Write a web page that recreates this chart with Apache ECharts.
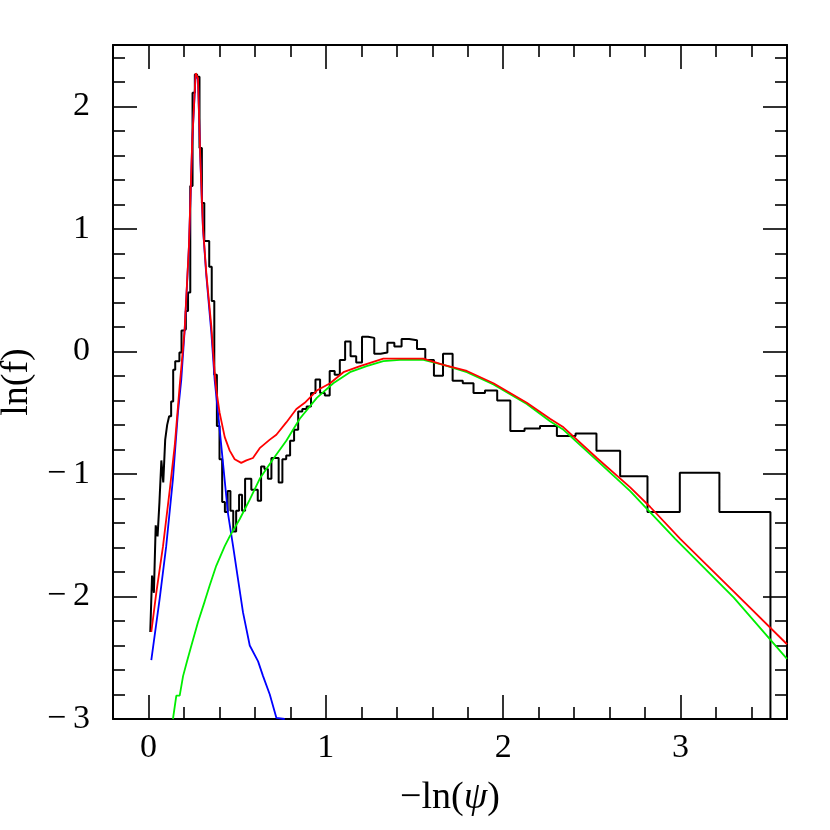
<!DOCTYPE html>
<html>
<head>
<meta charset="utf-8">
<script src="https://cdn.jsdelivr.net/npm/echarts@6/dist/echarts.min.js"></script>
<style>
  html, body { margin: 0; padding: 0; background: #fff; }
  #chart { width: 830px; height: 830px; }
</style>
</head>
<body>
<div id="chart"></div>
<script>
// histogram bin edges in -ln(psi), bins of 0.01 in psi (0.99 ... 0.03)
const binEdges = [
  0.0101, 0.0202, 0.0305, 0.0408, 0.0513, 0.0619, 0.0726, 0.0834, 0.0943, 0.1054,
  0.1165, 0.1278, 0.1393, 0.1508, 0.1625, 0.1744, 0.1863, 0.1985, 0.2107, 0.2231,
  0.2357, 0.2485, 0.2614, 0.2744, 0.2877, 0.3011, 0.3147, 0.3285, 0.3425, 0.3567,
  0.3711, 0.3857, 0.4005, 0.4155, 0.4308, 0.4463, 0.4620, 0.4780, 0.4943, 0.5108,
  0.5276, 0.5447, 0.5621, 0.5798, 0.5978, 0.6162, 0.6349, 0.6539, 0.6733, 0.6931,
  0.7133, 0.7340, 0.7550, 0.7765, 0.7985, 0.8210, 0.8440, 0.8675, 0.8916, 0.9163,
  0.9416, 0.9676, 0.9943, 1.0217, 1.0498, 1.0788, 1.1087, 1.1394, 1.1712, 1.2040,
  1.2379, 1.2730, 1.3093, 1.3471, 1.3863, 1.4271, 1.4697, 1.5141, 1.5606, 1.6094,
  1.6607, 1.7148, 1.7720, 1.8326, 1.8971, 1.9661, 2.0402, 2.1203, 2.2073, 2.3026,
  2.4079, 2.5257, 2.6593, 2.8134, 2.9957, 3.2189, 3.5066
];
// ln(f) per bin
const lnF = [
  -2.29, -1.83, -1.97, -1.42, -1.51, -1.23, -0.89, -1.07, -0.72, -0.60,
  -0.53, -0.41, -0.15, -0.08, -0.08, -0.01, 0.17, 0.18, 0.33, 0.48,
  1.35, 2.11, 2.26, 2.24, 1.66, 1.21, 0.90, 0.90, 0.69, 0.41,
  -0.19, -0.61, -0.88, -1.23, -1.31, -1.14, -1.30, -1.47, -1.30, -1.17,
  -1.30, -1.04, -1.04, -1.13, -1.13, -1.22, -0.94, -0.96, -1.04, -0.87,
  -0.87, -1.07, -0.88, -0.85, -0.73, -0.64, -0.49, -0.47, -0.45, -0.34,
  -0.23, -0.34, -0.36, -0.16, -0.19, -0.07, 0.08, -0.04, -0.09, 0.12,
  0.11, -0.02, -0.01, 0.07, 0.04, 0.10, 0.09, 0.02, -0.07, -0.20,
  -0.02, -0.24, -0.26, -0.34, -0.32, -0.40, -0.65, -0.63, -0.61, -0.69,
  -0.67, -0.81, -1.02, -1.31, -0.99, -1.31
];

const totalFit = [
  [0.016, -2.29], [0.044, -1.97], [0.082, -1.59], [0.120, -1.13], [0.148, -0.77],
  [0.176, -0.28], [0.204, 0.18], [0.228, 0.86], [0.247, 1.73], [0.266, 2.27],
  [0.279, 2.23], [0.292, 1.59], [0.307, 1.02], [0.326, 0.64], [0.354, 0.21],
  [0.373, -0.17], [0.382, -0.31], [0.401, -0.50], [0.430, -0.70], [0.458, -0.81],
  [0.486, -0.88], [0.523, -0.91], [0.552, -0.89], [0.589, -0.87], [0.627, -0.79],
  [0.684, -0.72], [0.721, -0.68], [0.777, -0.58], [0.834, -0.47], [0.881, -0.42],
  [0.949, -0.32], [1.024, -0.26], [1.099, -0.17], [1.193, -0.12], [1.324, -0.06],
  [1.418, -0.06], [1.550, -0.06], [1.663, -0.11], [1.795, -0.16], [1.945, -0.26],
  [2.133, -0.42], [2.264, -0.55], [2.340, -0.62], [2.528, -0.87], [2.716, -1.11],
  [2.829, -1.27], [2.998, -1.53], [3.300, -1.96], [3.600, -2.39]
];
const peakPart = [
  [0.016, -2.52], [0.063, -2.02], [0.100, -1.59], [0.138, -1.04], [0.166, -0.50],
  [0.185, -0.23], [0.204, 0.17], [0.228, 0.85], [0.247, 1.72], [0.266, 2.26],
  [0.279, 2.22], [0.292, 1.58], [0.307, 1.01], [0.326, 0.62], [0.354, 0.16],
  [0.373, -0.23], [0.392, -0.50], [0.420, -0.91], [0.448, -1.32], [0.477, -1.59],
  [0.505, -1.86], [0.533, -2.13], [0.571, -2.40], [0.618, -2.53], [0.646, -2.65],
  [0.684, -2.80], [0.721, -2.99], [0.768, -3.00]
];
const broadPart = [
  [0.138, -3.00], [0.157, -2.81], [0.176, -2.81], [0.195, -2.65], [0.217, -2.53],
  [0.242, -2.40], [0.279, -2.21], [0.317, -2.04], [0.345, -1.91], [0.382, -1.75],
  [0.430, -1.59], [0.458, -1.51], [0.514, -1.37], [0.571, -1.21], [0.627, -1.04],
  [0.702, -0.88], [0.777, -0.73], [0.853, -0.55], [0.949, -0.38], [1.042, -0.26],
  [1.136, -0.17], [1.230, -0.12], [1.324, -0.08], [1.418, -0.07], [1.550, -0.07],
  [1.663, -0.11], [1.795, -0.17], [1.945, -0.27], [2.133, -0.43], [2.264, -0.57],
  [2.340, -0.64], [2.528, -0.89], [2.716, -1.14], [2.970, -1.53], [3.300, -2.01],
  [3.600, -2.51]
];

const xMajor = [0, 1, 2, 3];
const xMinor = [0.2, 0.4, 0.6, 0.8, 1.2, 1.4, 1.6, 1.8, 2.2, 2.4, 2.6, 2.8, 3.2, 3.4];
const yMajor = [-3, -2, -1, 0, 1, 2];
const yMinor = [-2.8, -2.6, -2.4, -2.2, -1.8, -1.6, -1.4, -1.2, -0.8, -0.6, -0.4, -0.2,
  0.2, 0.4, 0.6, 0.8, 1.2, 1.4, 1.6, 1.8, 2.2, 2.4];

const FONT = 'Liberation Serif';
const frame = { show: true, onZero: false, lineStyle: { color: '#000', width: 2 } };
const noLine = { show: false, onZero: false };

function histPoints() {
  const pts = lnF.map((v, i) => [binEdges[i], v]);
  const last = binEdges.length - 1;
  pts.push([binEdges[last], lnF[lnF.length - 1]]);
  pts.push([binEdges[last], -3]);
  return pts;
}

function xAx(pos, ticks, len, labels) {
  return {
    type: 'value', position: pos, min: -0.2, max: 3.6,
    axisLine: labels !== null ? frame : noLine,
    splitLine: { show: false },
    axisTick: { show: true, inside: true, length: len, customValues: ticks,
      lineStyle: { color: '#000', width: 1.6 } },
    axisLabel: labels ? {
      show: true, customValues: labels, margin: 12, color: '#000',
      fontFamily: FONT, fontSize: 34
    } : { show: false }
  };
}
function yAx(pos, ticks, len, labels) {
  return {
    type: 'value', position: pos, min: -3, max: 2.5,
    axisLine: labels !== null ? frame : noLine,
    splitLine: { show: false },
    axisTick: { show: true, inside: true, length: len, customValues: ticks,
      lineStyle: { color: '#000', width: 1.6 } },
    axisLabel: labels ? {
      show: true, customValues: labels, margin: 23, color: '#000',
      fontFamily: FONT, fontSize: 34,
      formatter: v => v < 0 ? '\u2212\u2009' + (-v) : String(v)
    } : { show: false }
  };
}

const chart = echarts.init(document.getElementById('chart'));
const xMain = xAx('bottom', xMajor, 24, xMajor);
xMain.name = '\u2212ln({i|\u03c8})';
xMain.nameLocation = 'middle';
xMain.nameGap = 60;
xMain.nameTextStyle = { fontFamily: FONT, fontSize: 38, color: '#000',
  rich: { i: { fontFamily: FONT, fontSize: 38, fontStyle: 'italic', color: '#000' } } };
const yMain = yAx('left', yMajor, 24, yMajor);
yMain.name = 'ln(f)';
yMain.nameLocation = 'middle';
yMain.nameGap = 74;
yMain.nameRotate = 90;
yMain.nameTextStyle = { fontFamily: FONT, fontSize: 38, color: '#000' };

chart.setOption({
  animation: false,
  backgroundColor: '#fff',
  grid: { left: 113, right: 43, top: 45, bottom: 111, containLabel: false,
    outerBoundsMode: 'none' },
  xAxis: [
    xMain,
    xAx('bottom', xMinor, 12, null),
    xAx('top', xMajor, 24, false),
    xAx('top', xMinor, 12, null)
  ],
  yAxis: [
    yMain,
    yAx('left', yMinor, 12, null),
    yAx('right', yMajor, 24, false),
    yAx('right', yMinor, 12, null)
  ],
  series: [
    {
      name: 'histogram', type: 'line', step: 'end', data: histPoints(),
      symbol: 'none', lineStyle: { color: '#000', width: 2 }, z: 2
    },
    {
      name: 'peak', type: 'line', data: peakPart, symbol: 'none',
      lineStyle: { color: '#0000ff', width: 1.8 }, z: 3
    },
    {
      name: 'broad', type: 'line', data: broadPart, symbol: 'none',
      lineStyle: { color: '#00ee00', width: 1.8 }, z: 4
    },
    {
      name: 'total', type: 'line', data: totalFit, symbol: 'none',
      lineStyle: { color: '#ff0000', width: 1.8 }, z: 5
    }
  ]
});
</script>
</body>
</html>
